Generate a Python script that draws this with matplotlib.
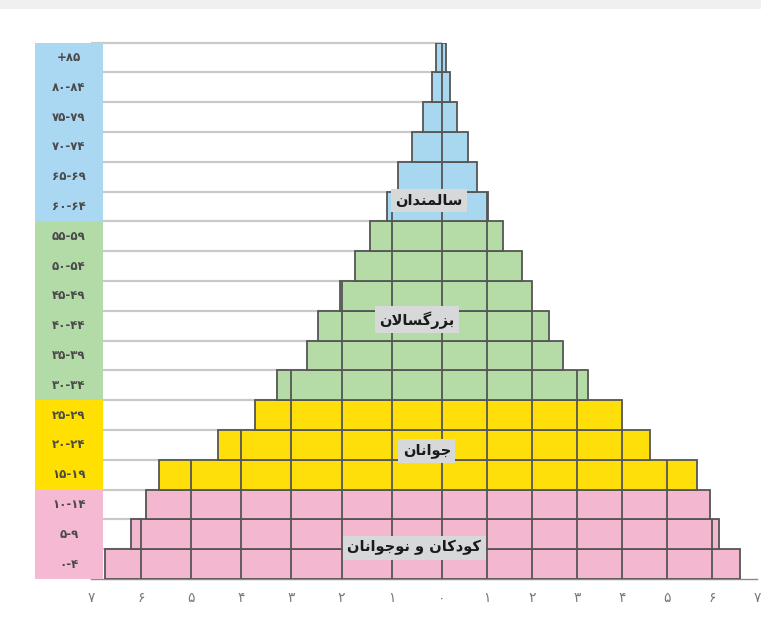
# Age pyramid with Persian labels, colored by age group

import numpy as np
import matplotlib.pyplot as plt
from matplotlib.patches import Rectangle

# Age groups, bottom to top
ages = ['۰-۴', '۵-۹', '۱۰-۱۴', '۱۵-۱۹', '۲۰-۲۴', '۲۵-۲۹',
        '۳۰-۳۴', '۳۵-۳۹', '۴۰-۴۴', '۴۵-۴۹', '۵۰-۵۴', '۵۵-۵۹',
        '۶۰-۶۴', '۶۵-۶۹', '۷۰-۷۴', '۷۵-۷۹', '۸۰-۸۴', '+۸۵']

# Bar extents (percent), left and right of zero
left_vals = [6.73, 6.2, 5.9, 5.65, 4.47, 3.73,
             3.28, 2.7, 2.48, 2.04, 1.74, 1.44,
             1.1, 0.88, 0.6, 0.38, 0.2, 0.12]
right_vals = [6.62, 6.15, 5.95, 5.67, 4.63, 4.0,
              3.25, 2.7, 2.38, 2.0, 1.79, 1.36,
              1.03, 0.78, 0.58, 0.33, 0.18, 0.1]

# Group of each row and group names
row_group = [0]*3 + [1]*3 + [2]*6 + [3]*6
group_names = ['کودکان و نوجوانان', 'جوانان', 'بزرگسالان', 'سالمندان']

xticks = list(range(-7, 8))
fa_digits = '۰۱۲۳۴۵۶۷۸۹'
xticklabels = [fa_digits[abs(v)] for v in xticks]

# styles
bar_colors = ['#f3b7d0', '#fedf0a', '#b5dba7', '#a8d8ef']
col_colors = ['#f5b9d4', '#ffe000', '#b3dba8', '#aad8f2']
label_x = [-0.55, -0.3, -0.5, -0.26]
label_y = [1.05, 4.3, 8.7, 12.7]


# crude Persian shaping (matplotlib has no complex text layout)
forms = {
    'ا': ('\uFE8D', '\uFE8E', None, None),
    'ب': ('\uFE8F', '\uFE90', '\uFE91', '\uFE92'),
    'ج': ('\uFE9D', '\uFE9E', '\uFE9F', '\uFEA0'),
    'د': ('\uFEA9', '\uFEAA', None, None),
    'ر': ('\uFEAD', '\uFEAE', None, None),
    'ز': ('\uFEAF', '\uFEB0', None, None),
    'س': ('\uFEB1', '\uFEB2', '\uFEB3', '\uFEB4'),
    'ل': ('\uFEDD', '\uFEDE', '\uFEDF', '\uFEE0'),
    'م': ('\uFEE1', '\uFEE2', '\uFEE3', '\uFEE4'),
    'ن': ('\uFEE5', '\uFEE6', '\uFEE7', '\uFEE8'),
    'و': ('\uFEED', '\uFEEE', None, None),
    'ک': ('\uFB8E', '\uFB8F', '\uFB90', '\uFB91'),
    'گ': ('\uFB92', '\uFB93', '\uFB94', '\uFB95'),
    'لا': ('\uFEFB', '\uFEFC', None, None),
}

def shape(s):
    toks = []
    i = 0
    while i < len(s):
        if s[i:i+2] == 'لا':
            toks.append('لا'); i += 2
        else:
            toks.append(s[i]); i += 1
    out = []
    for k, t in enumerate(toks):
        if t not in forms:
            out.append(t); continue
        prev = toks[k-1] if k > 0 else None
        nxt = toks[k+1] if k+1 < len(toks) else None
        jp = prev in forms and forms[prev][2] is not None
        jn = forms[t][2] is not None and nxt in forms
        iso, fin, ini, med = forms[t]
        if jp and jn:
            out.append(med)
        elif jp:
            out.append(fin)
        elif jn:
            out.append(ini)
        else:
            out.append(iso)
    return ''.join(out)[::-1]


# left side of the scanned chart is a bit wider than the right side
k_left = 50.1/45.0
def fwd(x):
    x = np.asarray(x, dtype=float)
    return np.where(x < 0, x*k_left, x)
def inv(x):
    x = np.asarray(x, dtype=float)
    return np.where(x < 0, x/k_left, x)

W, H = 761, 634
fig = plt.figure(figsize=(W/100, H/100), dpi=100, facecolor='white')
fig.add_artist(Rectangle((0, 1-9/H), 1, 9/H, transform=fig.transFigure,
                         color='#f0f0f0', lw=0))

ax = fig.add_axes([91/W, (H-579)/H, 666/W, (579-42.5)/H])
ax.set_xscale('function', functions=(fwd, inv))
ax.set_xlim(-7, 7)
ax.set_ylim(0, 18)

n = len(ages)
y = np.arange(n)
L = np.array(left_vals)
R = np.array(right_vals)
colors = [bar_colors[g] for g in row_group]

# light row lines in the empty left part
ax.hlines(np.arange(1, n+1), -7, 0, color='#c9c9c9', lw=1.6, zorder=1, clip_on=False)

ax.barh(y + 0.5, L + R, left=-L, height=1, color=colors,
        edgecolor='#555555', linewidth=1.3, zorder=3)

# grid cells inside each bar
for i in range(n):
    ks = [k for k in xticks if -L[i] < k < R[i]]
    ax.vlines(ks, i, i + 1, color='#555555', lw=1.3, zorder=4)

for name, gx, gy in zip(group_names, label_x, label_y):
    ax.text(gx, gy, shape(name), ha='center', va='center', fontsize=10.5,
            fontweight='bold', color='#1a1a1a', zorder=6,
            bbox=dict(boxstyle='square,pad=0.3', fc='#d6d8da', ec='none'))

for s in ['top', 'left', 'right']:
    ax.spines[s].set_visible(False)
ax.spines['bottom'].set_color('#8a8a8a')
ax.spines['bottom'].set_linewidth(1.0)
ax.set_yticks([])
ax.set_xticks(xticks)
ax.set_xticklabels(xticklabels)
ax.tick_params(axis='x', length=0, pad=9, labelsize=10, labelcolor='#7a7a7a')
ax.set_xticks([-7], minor=True)
ax.tick_params(axis='x', which='minor', length=7, width=1.2, color='#8a8a8a')
ax.set_facecolor('none')

# colored age label column
lab = fig.add_axes([35/W, (H-579)/H, 68/W, (579-42.5)/H], zorder=5)
lab.barh(y + 0.5, 1, height=1, color=[col_colors[g] for g in row_group], lw=0)
for i, a in enumerate(ages):
    lab.text(0.5, i + 0.5, a, ha='center', va='center', fontsize=8.5,
             fontweight='bold', color='#4a4a4a')
lab.set_xlim(0, 1)
lab.set_ylim(0, 18)
lab.axis('off')

fig.savefig('out.png', dpi=100)
